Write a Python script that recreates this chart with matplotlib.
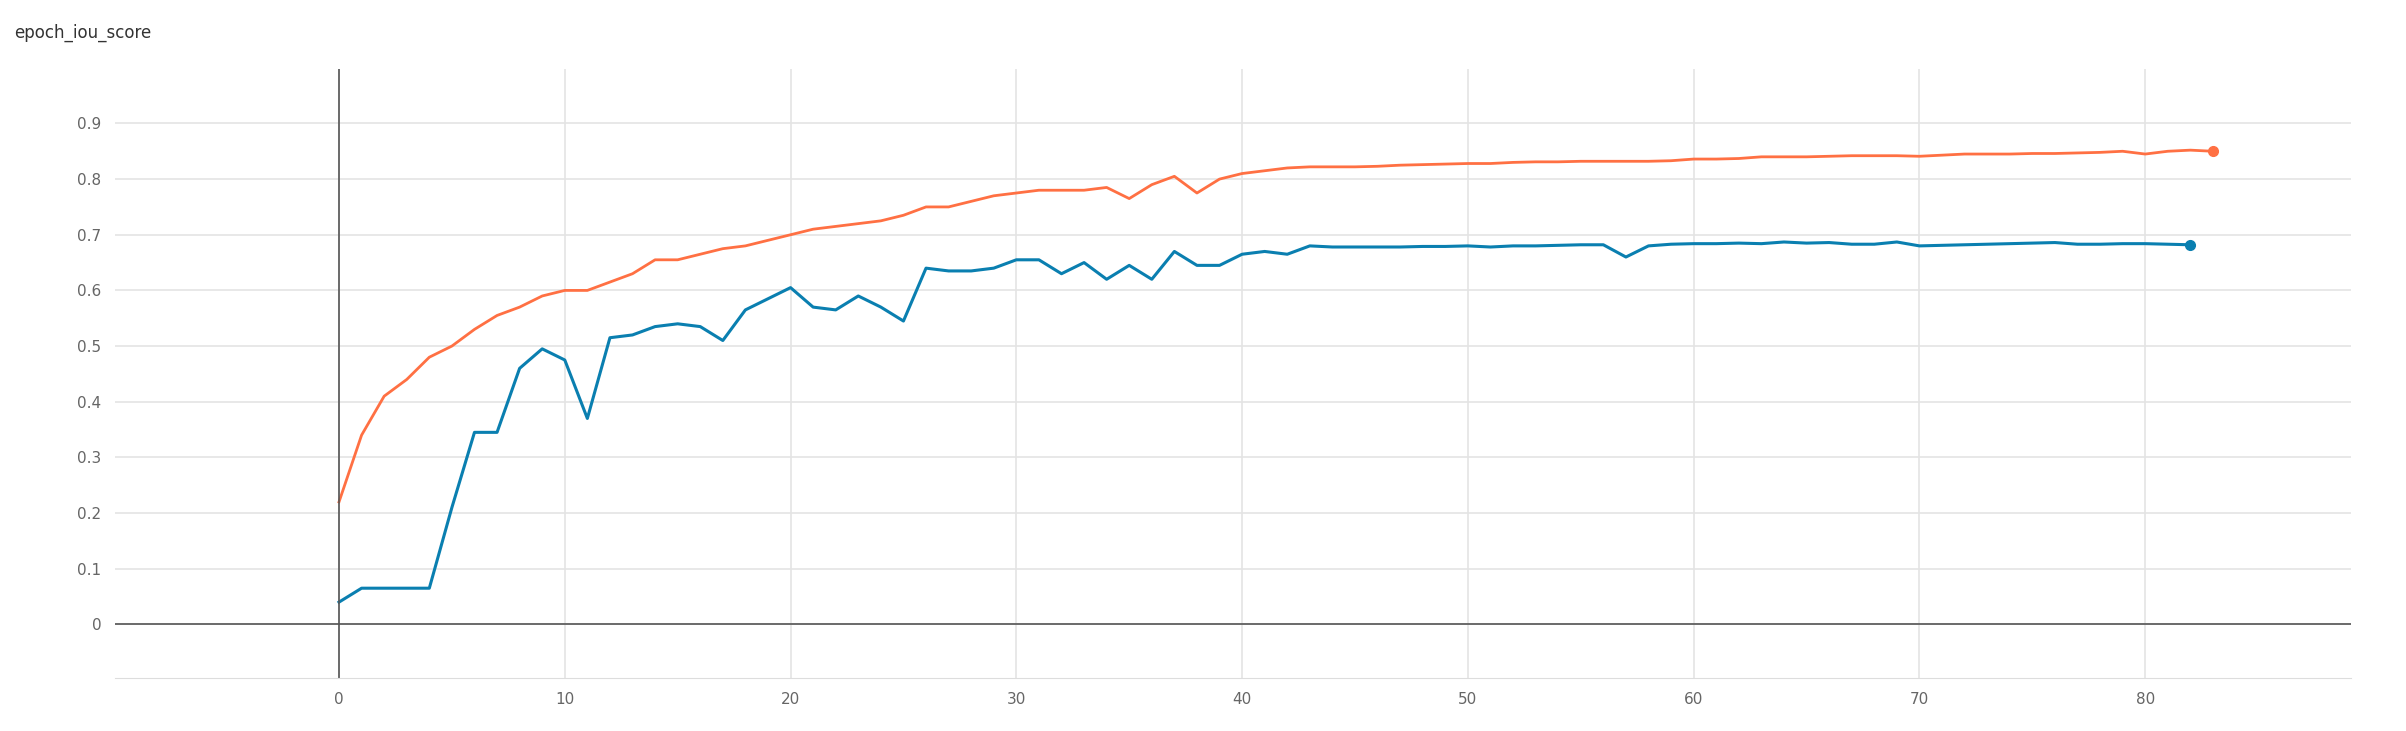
import matplotlib.pyplot as plt

epochs_train = list(range(84))
iou_train = [0.22, 0.34, 0.41, 0.44, 0.48, 0.50, 0.53, 0.555, 0.57, 0.59,
             0.60, 0.60, 0.615, 0.63, 0.655, 0.655, 0.665, 0.675, 0.68, 0.69,
             0.70, 0.71, 0.715, 0.72, 0.725, 0.735, 0.75, 0.75, 0.76, 0.77,
             0.775, 0.78, 0.78, 0.78, 0.785, 0.765, 0.79, 0.805, 0.775, 0.80,
             0.81, 0.815, 0.82, 0.822, 0.822, 0.822, 0.823, 0.825, 0.826, 0.827,
             0.828, 0.828, 0.830, 0.831, 0.831, 0.832, 0.832, 0.832, 0.832, 0.833,
             0.836, 0.836, 0.837, 0.840, 0.840, 0.840, 0.841, 0.842, 0.842, 0.842,
             0.841, 0.843, 0.845, 0.845, 0.845, 0.846, 0.846, 0.847, 0.848, 0.850,
             0.845, 0.850, 0.852, 0.850]

epochs_val = list(range(83))
iou_val = [0.04, 0.065, 0.065, 0.065, 0.065, 0.21, 0.345, 0.345, 0.46, 0.495,
           0.475, 0.37, 0.515, 0.52, 0.535, 0.54, 0.535, 0.51, 0.565, 0.585,
           0.605, 0.57, 0.565, 0.59, 0.57, 0.545, 0.64, 0.635, 0.635, 0.64,
           0.655, 0.655, 0.63, 0.65, 0.62, 0.645, 0.62, 0.67, 0.645, 0.645,
           0.665, 0.67, 0.665, 0.68, 0.678, 0.678, 0.678, 0.678, 0.679, 0.679,
           0.68, 0.678, 0.68, 0.68, 0.681, 0.682, 0.682, 0.66, 0.68, 0.683,
           0.684, 0.684, 0.685, 0.684, 0.687, 0.685, 0.686, 0.683, 0.683, 0.687,
           0.68, 0.681, 0.682, 0.683, 0.684, 0.685, 0.686, 0.683, 0.683, 0.684,
           0.684, 0.683, 0.682]

x_ticks = list(range(0, 90, 10))
y_ticks = [round(0.1 * i, 1) for i in range(10)]

fig = plt.figure(figsize=(24.06, 7.31), dpi=100)
ax = fig.add_axes([0.048, 0.072, 0.929, 0.833])

orange = "#ff7043"
blue = "#0a7fb0"
ax.plot(epochs_train, iou_train, color=orange, linewidth=2)
ax.plot(epochs_val, iou_val, color=blue, linewidth=2.2)
ax.plot(epochs_train[-1], iou_train[-1], "o", color=orange, markersize=7)
ax.plot(epochs_val[-1], iou_val[-1], "o", color=blue, markersize=7)

ax.axvline(0, color="#555555", linewidth=1.2)
ax.axhline(0, color="#555555", linewidth=1.2)

ax.set_xlim(-9.9, 89.1)
ax.set_ylim(-0.097, 0.997)
ax.set_xticks(x_ticks)
ax.set_yticks(y_ticks)
ax.set_yticklabels(["0"] + [f"{v:g}" for v in y_ticks[1:]])
ax.grid(True, color="#e4e4e4", linewidth=1.2)
ax.set_axisbelow(True)
for s in ax.spines.values():
    s.set_visible(False)
ax.spines["bottom"].set_visible(True)
ax.spines["bottom"].set_color("#dddddd")
ax.tick_params(length=0, labelsize=11, colors="#666666", pad=10)

fig.text(0.006, 0.955, "epoch_iou_score", fontsize=12, color="#333333", va="center")

fig.savefig("out.png", dpi=100, facecolor="white")
